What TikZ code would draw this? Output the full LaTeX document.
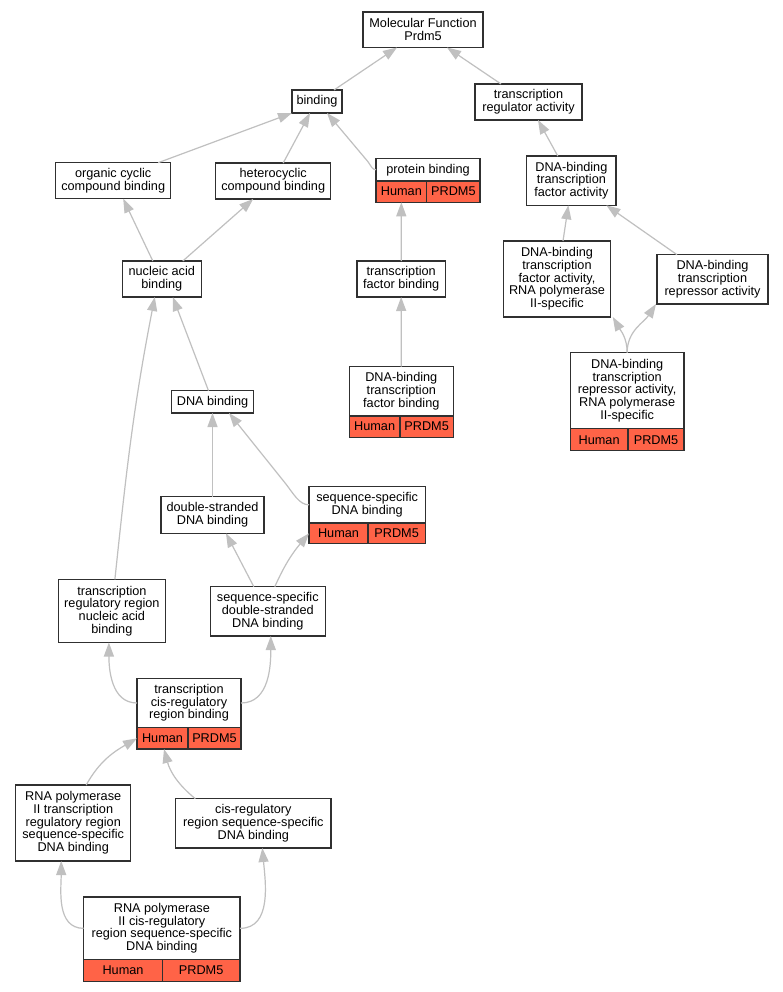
\documentclass[tikz,border=0pt]{standalone}
\usepackage{fontspec}
\setmainfont{Liberation Sans}
\usetikzlibrary{arrows.meta}
\definecolor{edgegray}{HTML}{C0C0C0}
\definecolor{tomato}{HTML}{FF6347}
\definecolor{boxline}{HTML}{303030}
\newcommand\gonode[6]{%
  \node[gobox, minimum width={(#3-#2)*1pt}, minimum height={(#5-#4)*1pt}] (#1) at ({(#2+#3)/2},{(#4+#5)/2}) {#6};}
\newcommand\annnode[8]{%
  \gonode{#1}{#2}{#3}{#4}{#5}{#8}
  \node[annbox, minimum width={(#7-#2)*1pt}, minimum height={(#6-#5)*1pt}] (#1h) at ({(#2+#7)/2},{(#5+#6)/2}) {Human};
  \node[annbox, minimum width={(#3-#7)*1pt}, minimum height={(#6-#5)*1pt}] (#1p) at ({(#7+#3)/2},{(#5+#6)/2}) {PRDM5};}
\begin{document}
\begin{tikzpicture}[x=1pt,y=-1pt,
  gobox/.style={draw=boxline, line width=1.2pt, fill=white, inner sep=0pt, outer sep=0pt, align=center,
    font=\fontsize{12.7}{12.7}\selectfont},
  annbox/.style={draw=boxline, line width=1.2pt, fill=tomato, inner sep=0pt, outer sep=0pt, align=center,
    font=\fontsize{12.7}{12.7}\selectfont},
  edge/.style={draw=edgegray, line width=1.2pt, -{Triangle[length=14pt,width=10pt]}}]
\useasboundingbox[fill=white] (0,0) rectangle (783,992);

\gonode{mf}{363}{483}{12}{47.5}{Molecular Function\\Prdm5}
\gonode{bind}{292}{342}{90}{113}{binding}
\gonode{tra}{475}{582}{84}{120}{transcription\\regulator activity}
\annnode{pb}{376}{480}{158.5}{181}{202.3}{426.7}{protein binding}
\gonode{dbtfa}{526.7}{616}{156}{205.3}{DNA-binding\\transcription\\factor activity}
\gonode{occ}{55.7}{170.7}{162.7}{198.7}{organic cyclic\\compound binding}
\gonode{het}{215.7}{330.7}{163}{199}{heterocyclic\\compound binding}
\gonode{nab}{122.3}{201.3}{261}{297}{nucleic acid\\binding}
\gonode{tfb}{357}{445.3}{261}{297}{transcription\\factor binding}
\gonode{dbtfa2}{503.7}{610.3}{241}{317}{DNA-binding\\transcription\\factor activity,\\RNA polymerase\\II-specific}
\gonode{dbtra}{657}{768}{254.7}{304}{DNA-binding\\transcription\\repressor activity}
\annnode{dbtra2}{570.3}{684}{352.7}{428.7}{450.7}{628}{DNA-binding\\transcription\\repressor activity,\\RNA polymerase\\II-specific}
\gonode{dnab}{171.7}{253.3}{390.7}{413}{DNA binding}
\annnode{dbtfb}{349.3}{453.3}{366.7}{416}{437.3}{400}{DNA-binding\\transcription\\factor binding}
\gonode{dsdb}{161}{264}{496.7}{533.3}{double-stranded\\DNA binding}
\annnode{ssdb}{309}{425.3}{486.7}{523}{543.7}{368}{sequence-specific\\DNA binding}
\gonode{trrnab}{58.3}{165.5}{579.3}{642.5}{transcription\\regulatory region\\nucleic acid\\binding}
\gonode{ssds}{210.3}{325.3}{586.7}{636}{sequence-specific\\double-stranded\\DNA binding}
\annnode{tcrrb}{137}{241}{678.3}{727.7}{749}{188}{transcription\\cis-regulatory\\region binding}
\gonode{rnap}{15.7}{130.7}{785}{861}{RNA polymerase\\II transcription\\regulatory region\\sequence-specific\\DNA binding}
\gonode{crss}{175.7}{331}{798.7}{848}{cis-regulatory\\region sequence-specific\\DNA binding}
\annnode{rnapc}{83.7}{240}{897}{959.7}{981.3}{162.3}{RNA polymerase\\II cis-regulatory\\region sequence-specific\\DNA binding}

\draw[edge] ([xshift=17]bind.north) -- ([xshift=-26]mf.south);
\draw[edge] ([xshift=-27.5]tra.north) -- ([xshift=24]mf.south);
\draw[edge] ([xshift=45]occ.north) -- (bind.south west);
\draw[edge] ([xshift=10]het.north) -- ([xshift=-7]bind.south);
\draw[edge] (pb.west) .. controls +(-4,0) and +(3,4) .. ++(-8,-8) -- ([xshift=10]bind.south);
\draw[edge] ([xshift=-13.6]dbtfa.north) -- ([xshift=9.5]tra.south);
\draw[edge] ([xshift=-9]nab.north) -- ([xshift=10]occ.south);
\draw[edge] ([xshift=21]nab.north) -- ([xshift=-20]het.south);
\draw[edge] (tfb.north) -- (pbh.south);
\draw[edge] (dbtfb.north) -- (tfb.south);
\draw[edge] ([xshift=6]dbtfa2.north) -- ([xshift=-3]dbtfa.south);
\draw[edge] ([xshift=-35.5]dbtra.north) -- ([xshift=35]dbtfa.south);
\draw[edge] (dbtra2.north) to[out=90,in=-60] ([xshift=2.5]dbtfa2.south east);
\draw[edge] (dbtra2.north) to[out=90,in=-123] ([xshift=-1]dbtra.south west);
\draw[edge] ([xshift=-4]dnab.north) -- ([xshift=11]nab.south);
\draw[edge] ([xshift=3]trrnab.north) to[out=84,in=-101] ([xshift=-7]nab.south);
\draw[edge] (dsdb.north) -- (dnab.south);
\draw[edge] (ssdb.west) .. controls +(-10,0) and +(8,10) .. ++(-24,-22) -- ([xshift=16.5]dnab.south);
\draw[edge] ([xshift=-14]ssds.north) -- ([xshift=13.5]dsdb.south);
\draw[edge] ([xshift=7]ssds.north) to[out=66,in=-130] (ssdbh.west);
\draw[edge] (tcrrb.west) to[out=180,in=-90] ([xshift=-3]trrnab.south);
\draw[edge] (tcrrb.east) to[out=0,in=-90] ([xshift=3]ssds.south);
\draw[edge] ([xshift=13]rnap.north) to[out=61,in=-150] (tcrrbh.west);
\draw[edge] ([xshift=-58]crss.north) to[out=141,in=-75] ([xshift=1.5]tcrrbh.south);
\draw[edge] (rnapc.west) to[out=180,in=-90] ([xshift=-12]rnap.south);
\draw[edge] (rnapc.east) to[out=0,in=-85] ([xshift=9]crss.south);
\end{tikzpicture}
\end{document}
